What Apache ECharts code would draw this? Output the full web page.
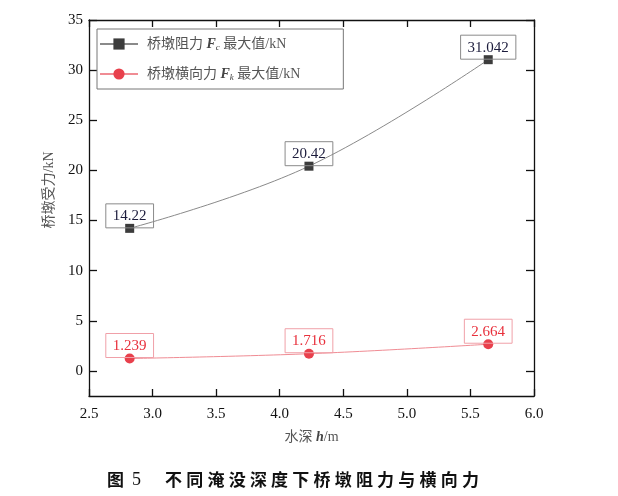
<!DOCTYPE html>
<html>
<head>
<meta charset="utf-8">
<script src="https://cdn.jsdelivr.net/npm/echarts@6/dist/echarts.min.js"></script>
<style>
html,body{margin:0;padding:0;background:#fff;}
#chart{width:618px;height:496px;}
</style>
</head>
<body>
<div id="chart"></div>
<script>
const depths = [2.82, 4.23, 5.64];
const resistance = [14.22, 20.42, 31.042];
const lateral = [1.239, 1.716, 2.664];
const yTicks = [0, 5, 10, 15, 20, 25, 30, 35];
const seriesNames = ['桥墩阻力 Fc 最大值/kN', '桥墩横向力 Fk 最大值/kN'];
const figLabel = '图';
const figNum = '5';
const titleText = '不同淹没深度下桥墩阻力与横向力';

const serif = '"Liberation Serif", "Noto Sans CJK SC", serif';
const chart = echarts.init(document.getElementById('chart'));

function pairs(xs, ys){ return xs.map((x,i)=>[x, ys[i]]); }

const axisLineStyle = {color:'#111', width:1.3};

const titleRich = '{f|' + figLabel + '}{n|' + figNum + '}' +
  titleText.split('').map(c => '{c|' + c + '}').join('');

chart.setOption({
  backgroundColor:'#fff',
  animation:false,
  grid:{left:89, right:84, top:20, bottom:100, containLabel:false},
  legend:{
    left:97, top:29, orient:'vertical',
    borderColor:'#777', borderWidth:1,
    padding:[8, 43, 7, 2],
    itemWidth:38, itemHeight:14, itemGap:15,
    textStyle:{fontFamily:serif, fontSize:14, color:'#555', padding:[0,0,0,4],
      rich:{
        a:{fontFamily:serif, fontSize:14, color:'#555'},
        i:{fontFamily:serif, fontSize:14, color:'#444', fontStyle:'italic', fontWeight:'bold'},
        s:{fontFamily:serif, fontSize:9, color:'#444', fontStyle:'italic', padding:[7,0,0,0]}
      }
    },
    formatter:function(name){
      if(name===seriesNames[0]) return '{a|桥墩阻力 }{i|F}{s|c}{a| 最大值/kN}';
      return '{a|桥墩横向力 }{i|F}{s|k}{a| 最大值/kN}';
    },
    data:seriesNames
  },
  graphic:[{
    type:'text', left:107, top:471,
    style:{
      text:titleRich,
      rich:{
        f:{font:'bold 17px "Noto Sans CJK SC", sans-serif', fill:'#111', padding:[0,8,0,0]},
        n:{font:'18px "Liberation Serif", serif', fill:'#111', padding:[0,22,0,0]},
        c:{font:'bold 17px "Noto Sans CJK SC", sans-serif', fill:'#111', padding:[0,2.1,0,2.1]}
      }
    }
  }],
  xAxis:[{
    type:'value', min:2.5, max:6, interval:0.5, position:'bottom',
    name:'{a|水深 }{i|h}{a|/m}', nameLocation:'middle', nameGap:34,
    nameTextStyle:{fontFamily:serif, fontSize:14, color:'#555',
      rich:{a:{fontFamily:serif, fontSize:14, color:'#555'}, i:{fontFamily:serif, fontSize:14, color:'#444', fontStyle:'italic', fontWeight:'bold'}}},
    axisLine:{show:true, onZero:false, lineStyle:axisLineStyle},
    axisTick:{show:true, inside:true, length:7, lineStyle:axisLineStyle},
    axisLabel:{fontFamily:serif, fontSize:15, color:'#111', margin:11, formatter:v=>v.toFixed(1)},
    splitLine:{show:false}
  },{
    type:'value', min:2.5, max:6, interval:0.5, position:'top',
    axisLine:{show:true, onZero:false, lineStyle:axisLineStyle},
    axisTick:{show:true, inside:true, length:7, lineStyle:axisLineStyle},
    axisLabel:{show:false}, splitLine:{show:false}
  }],
  yAxis:[{
    type:'value', min:-2.5, max:35, position:'left',
    name:'桥墩受力/kN', nameLocation:'middle', nameGap:33,
    nameTextStyle:{fontFamily:serif, fontSize:14, color:'#555', padding:[0,0,0,36]},
    axisLine:{show:true, onZero:false, lineStyle:axisLineStyle},
    axisTick:{show:true, inside:true, length:8, lineStyle:axisLineStyle, customValues:yTicks},
    axisLabel:{fontFamily:serif, fontSize:15, color:'#111', margin:6, customValues:yTicks},
    splitLine:{show:false}
  },{
    type:'value', min:-2.5, max:35, position:'right',
    axisLine:{show:true, onZero:false, lineStyle:axisLineStyle},
    axisTick:{show:true, inside:true, length:8, lineStyle:axisLineStyle, customValues:yTicks},
    axisLabel:{show:false}, splitLine:{show:false}
  }],
  series:[{
    name:seriesNames[0], type:'line', data:pairs(depths, resistance),
    smooth:0.4, symbol:'rect', symbolSize:9,
    itemStyle:{color:'#3c3c3c'},
    lineStyle:{color:'#8a8a8a', width:1},
    label:{show:true, position:'top', distance:-4, fontFamily:serif, fontSize:15, color:'#1c1c3c',
      borderColor:'#8a8a8a', borderWidth:1, padding:[5,7,4,7],
      formatter:p=>String(p.value[1])}
  },{
    name:seriesNames[1], type:'line', data:pairs(depths, lateral),
    smooth:0.4, symbol:'circle', symbolSize:10,
    itemStyle:{color:'#e8404c'},
    lineStyle:{color:'#f08c94', width:1},
    label:{show:true, position:'top', distance:-4, fontFamily:serif, fontSize:15, color:'#e8303c',
      borderColor:'#f0a0a8', borderWidth:1, padding:[5,7,4,7],
      formatter:p=>p.value[1].toFixed(3)}
  }]
});
</script>
</body>
</html>
